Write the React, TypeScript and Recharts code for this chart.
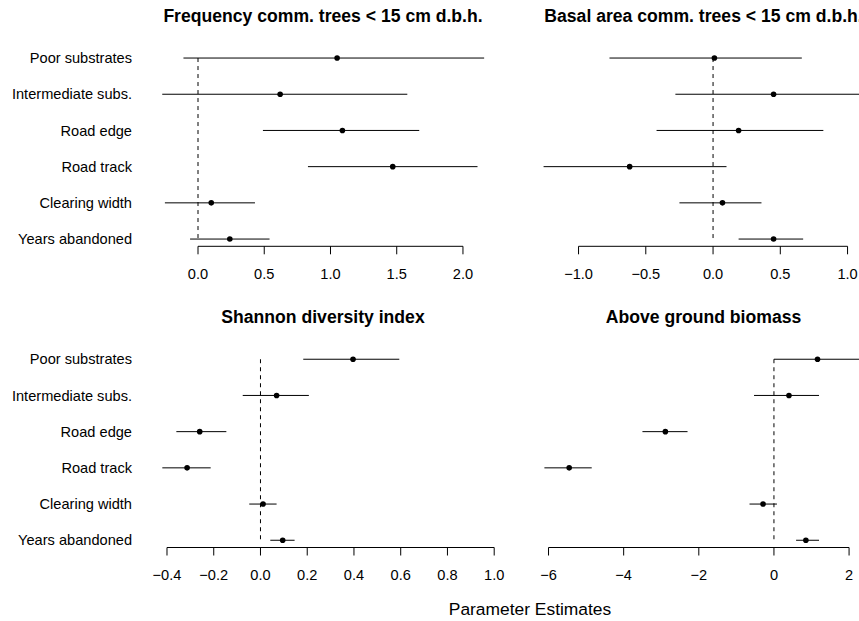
import React from 'react';
import { ScatterChart, Scatter, XAxis, YAxis, ErrorBar, ReferenceLine } from 'recharts';

// predictors, top to bottom
const categories = ['Poor substrates', 'Intermediate subs.', 'Road edge', 'Road track', 'Clearing width', 'Years abandoned'];

// Frequency comm. trees < 15 cm d.b.h.
const freqEst = [1.05, 0.62, 1.09, 1.47, 0.10, 0.24];
const freqLo = [-0.11, -0.27, 0.49, 0.83, -0.25, -0.06];
const freqHi = [2.16, 1.58, 1.67, 2.11, 0.43, 0.54];
const freqTicks = [0, 0.5, 1, 1.5, 2];

// Basal area comm. trees < 15 cm d.b.h.
const basalEst = [0.01, 0.45, 0.19, -0.62, 0.07, 0.45];
const basalLo = [-0.77, -0.28, -0.42, -1.26, -0.25, 0.19];
const basalHi = [0.66, 1.15, 0.82, 0.10, 0.36, 0.67];
const basalTicks = [-1, -0.5, 0, 0.5, 1];

// Shannon diversity index
const shannonEst = [0.396, 0.069, -0.26, -0.314, 0.011, 0.095];
const shannonLo = [0.183, -0.076, -0.36, -0.42, -0.048, 0.042];
const shannonHi = [0.594, 0.207, -0.146, -0.213, 0.069, 0.146];
const shannonTicks = [-0.4, -0.2, 0, 0.2, 0.4, 0.6, 0.8, 1];

// Above ground biomass
const agbEst = [1.16, 0.40, -2.89, -5.45, -0.29, 0.85];
const agbLo = [0.0, -0.53, -3.50, -6.11, -0.65, 0.59];
const agbHi = [2.40, 1.20, -2.30, -4.85, 0.08, 1.20];
const agbTicks = [-6, -4, -2, 0, 2];

const FONT = '"Liberation Sans", Arial, Helvetica, sans-serif';
const rowTicks = [1, 2, 3, 4, 5, 6];

const fmt = (digits: number) => (v: number) => {
  const s = Math.abs(v).toFixed(digits);
  return v < 0 ? '\u2212' + s : s;
};

const Dot = (props: any) => <circle cx={props.cx} cy={props.cy} r={2.8} fill="#000" />;

interface PanelProps {
  title: string;
  est: number[];
  lo: number[];
  hi: number[];
  ticks: number[];
  domain: [number, number];
  digits: number;
  left: number;
  top: number;
  width: number;
  height: number;
  plotLeft: number;
  plotRight: number;
  plotTop: number;
  plotBottom: number;
  showLabels: boolean;
  titleY: number;
}

const Panel = (p: PanelProps) => {
  const data = p.est.map((e, i) => ({ y: i + 1, x: e, err: [e - p.lo[i], p.hi[i] - e] }));
  const axisH = 40;
  const yW = p.showLabels ? p.plotLeft - p.left : 0;
  const margin = {
    top: p.plotTop - p.top,
    bottom: p.top + p.height - p.plotBottom - axisH,
    left: p.plotLeft - p.left - yW,
    right: p.left + p.width - p.plotRight,
  };
  const titleX = (p.plotLeft + p.plotRight) / 2;
  return (
    <>
      <div
        style={{
          position: 'absolute', left: titleX - 250, top: p.titleY - 11, width: 500, lineHeight: '22px',
          textAlign: 'center', fontFamily: FONT, fontWeight: 700, fontSize: 17.6, color: '#000', whiteSpace: 'nowrap',
        }}
      >
        {p.title}
      </div>
      <div style={{ position: 'absolute', left: p.left, top: p.top }}>
        <ScatterChart width={p.width} height={p.height} margin={margin}>
          <XAxis
            type="number"
            dataKey="x"
            domain={p.domain}
            allowDataOverflow
            ticks={p.ticks}
            interval={0}
            height={axisH}
            axisLine={false}
            tickSize={8}
            tickMargin={14.5}
            tickLine={{ stroke: '#000', strokeWidth: 1 }}
            tickFormatter={fmt(p.digits)}
            tick={{ fill: '#000', fontSize: 14.6, fontFamily: FONT }}
          />
          <YAxis
            type="number"
            dataKey="y"
            domain={[0.8, 6.2]}
            allowDataOverflow
            reversed
            ticks={rowTicks}
            interval={0}
            hide={!p.showLabels}
            width={yW}
            axisLine={false}
            tickLine={false}
            tickSize={0}
            tickMargin={17}
            tickFormatter={(v: number) => categories[v - 1]}
            tick={{ fill: '#000', fontSize: 14.6, fontFamily: FONT }}
          />
          <ReferenceLine
            segment={[{ x: p.ticks[0], y: 6.2 }, { x: p.ticks[p.ticks.length - 1], y: 6.2 }]}
            stroke="#000"
            strokeWidth={1}
            ifOverflow="visible"
          />
          <ReferenceLine
            segment={[{ x: 0, y: 1 }, { x: 0, y: 6 }]}
            stroke="#000"
            strokeWidth={1}
            strokeDasharray="4 4"
            ifOverflow="visible"
          />
          <Scatter data={data} shape={<Dot />} isAnimationActive={false}>
            <ErrorBar dataKey="err" direction="x" width={0} stroke="#000" strokeWidth={1} isAnimationActive={false} />
          </Scatter>
        </ScatterChart>
      </div>
    </>
  );
};

export default function App() {
  return (
    <div style={{ position: 'absolute', left: 0, top: 0, width: 859, height: 621, overflow: 'hidden', background: '#fff' }}>
      <Panel
        title="Frequency comm. trees < 15 cm d.b.h."
        est={freqEst} lo={freqLo} hi={freqHi} ticks={freqTicks} domain={[-0.37, 2.257]} digits={1}
        left={0} top={0} width={520} height={300}
        plotLeft={149} plotRight={497} plotTop={50.8} plotBottom={246.3}
        showLabels titleY={16}
      />
      <Panel
        title="Basal area comm. trees < 15 cm d.b.h."
        est={basalEst} lo={basalLo} hi={basalHi} ticks={basalTicks} domain={[-1.346, 1.204]} digits={1}
        left={520} top={0} width={380} height={300}
        plotLeft={532} plotRight={875} plotTop={50.8} plotBottom={246.3}
        showLabels={false} titleY={16}
      />
      <Panel
        title="Shannon diversity index"
        est={shannonEst} lo={shannonLo} hi={shannonHi} ticks={shannonTicks} domain={[-0.477, 1.012]} digits={1}
        left={0} top={300} width={520} height={321}
        plotLeft={149} plotRight={497} plotTop={352} plotBottom={547.5}
        showLabels titleY={317}
      />
      <Panel
        title="Above ground biomass"
        est={agbEst} lo={agbLo} hi={agbHi} ticks={agbTicks} domain={[-6.44, 2.69]} digits={0}
        left={520} top={300} width={380} height={321}
        plotLeft={532} plotRight={875} plotTop={352} plotBottom={547.5}
        showLabels={false} titleY={317}
      />
      <div
        style={{
          position: 'absolute', left: 330, top: 598, width: 400, lineHeight: '22px', textAlign: 'center',
          fontFamily: FONT, fontSize: 17.4, color: '#000',
        }}
      >
        Parameter Estimates
      </div>
    </div>
  );
}
